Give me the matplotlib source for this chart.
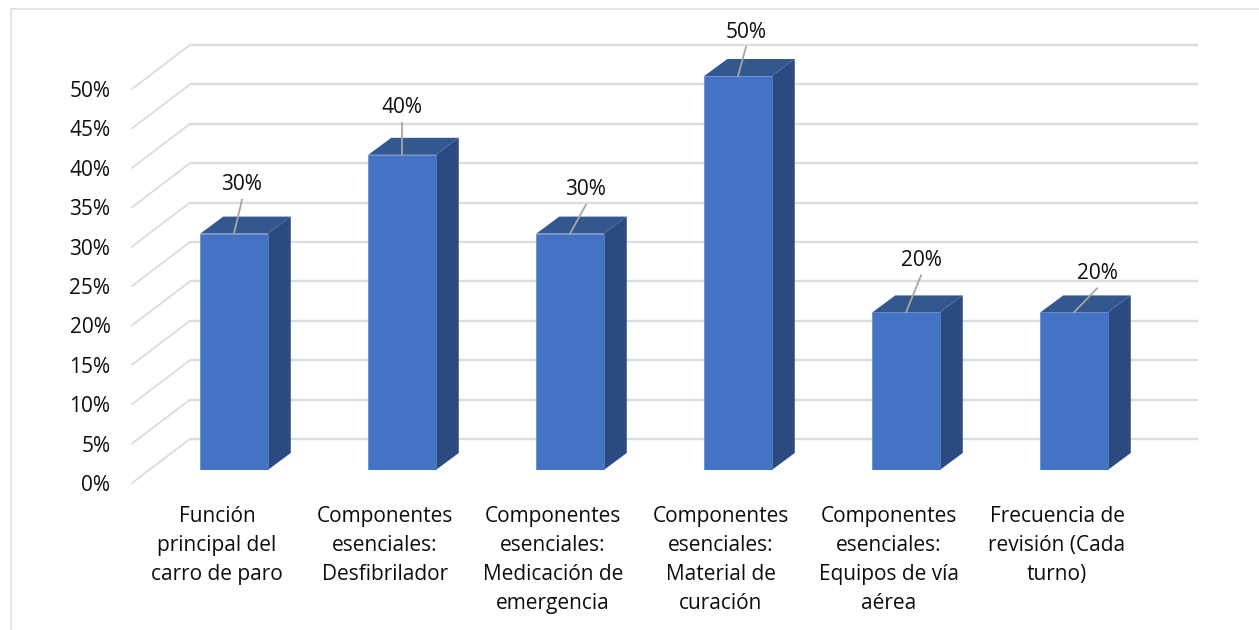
import matplotlib
matplotlib.use("Agg")
import matplotlib.pyplot as plt
from matplotlib.lines import Line2D
from matplotlib.transforms import ScaledTranslation

plt.rcParams['font.family'] = ['Open Sans', 'DejaVu Sans']

categories = [
    "Función\nprincipal del\ncarro de paro",
    "Componentes\nesenciales:\nDesfibrilador",
    "Componentes\nesenciales:\nMedicación de\nemergencia",
    "Componentes\nesenciales:\nMaterial de\ncuración",
    "Componentes\nesenciales:\nEquipos de vía\naérea",
    "Frecuencia de\nrevisión (Cada\nturno)",
]
values = [30, 40, 30, 50, 20, 20]
y_ticks = [0, 5, 10, 15, 20, 25, 30, 35, 40, 45, 50]
y_tick_labels = ["0%", "5%", "10%", "15%", "20%", "25%", "30%", "35%", "40%", "45%", "50%"]

W, H = 1259, 630
PX_X = 1 / 168  # one pixel in category units
PX_Y = 50 / 394  # one pixel in percent units

# Leader line end, relative to the top of each bar (pixels)
leader_dx = [8, 0, 16, 8, 15, 23]
leader_dy = [34, 32, 29, 29, 37, 24]

FRONT = "#4472C4"
SIDE = "#2B4A80"
TOP = "#33578F"
EDGE = "#5F86CC"
GRID = "#DCDCDC"
TEXT = "#0D0D0D"
FONT_SIZE = 15

fig = plt.figure(figsize=(W / 100, H / 100), dpi=100)
ax = fig.add_axes([150 / W, 1 - 470 / H, 1008 / W, 394 / H])
ax.set_xlim(-0.5, 5.5)
ax.set_ylim(0, 50)
ax.patch.set_visible(False)
for s in ax.spines.values():
    s.set_visible(False)

# Walls of the 3D box: back wall and left wall gridlines
back_x, back_y = 40 * PX_X, 31 * PX_Y
front_x, front_y = -18 * PX_X, -13 * PX_Y
for t in y_ticks:
    ax.plot([-0.5 + back_x, 5.5 + back_x], [t + back_y, t + back_y],
            color=GRID, lw=1.7, clip_on=False, zorder=1, solid_capstyle='butt')
    ax.plot([-0.5 + front_x, -0.5 + back_x], [t + front_y, t + back_y],
            color=GRID, lw=1.3, clip_on=False, zorder=1)

# Bars
bar_w = 67.5 * PX_X
dx, dy = 23 * PX_X, 17 * PX_Y
for i, v in enumerate(values):
    x0, x1 = i - bar_w / 2, i + bar_w / 2
    ax.fill([x1, x1 + dx, x1 + dx, x1], [0, dy, v + dy, v], color=SIDE, lw=0, zorder=2, clip_on=False)
    ax.fill([x0, x1, x1 + dx, x0 + dx], [v, v, v + dy, v + dy], color=TOP, lw=0, zorder=2, clip_on=False)
ax.bar(range(len(values)), values, width=bar_w, color=FRONT, edgecolor=EDGE, linewidth=0.5, zorder=3)

# Data labels with leader lines
for i, v in enumerate(values):
    lx = i + leader_dx[i] * PX_X
    ly = v + leader_dy[i] * PX_Y
    ax.plot([i, lx], [v, ly], color="#A6A6A6", lw=1.3, clip_on=False, zorder=4)
    ax.text(lx, ly + 15 * PX_Y, f"{v}%", ha='center', va='center', fontsize=FONT_SIZE,
            color=TEXT, zorder=5)

# Tick labels sit on the front edge of the floor, not on the bar plane
ax.set_yticks(y_ticks, y_tick_labels, fontsize=FONT_SIZE, color=TEXT)
ax.set_xticks(range(len(categories)), categories, fontsize=FONT_SIZE, color=TEXT, linespacing=1.5)
ax.tick_params(axis='y', length=0, pad=28.5)
ax.tick_params(axis='x', length=0, pad=26)
y_shift = ScaledTranslation(0, -13 / 100, fig.dpi_scale_trans)
x_shift = ScaledTranslation(-17 / 100, 0, fig.dpi_scale_trans)
for lab in ax.get_yticklabels():
    lab.set_transform(lab.get_transform() + y_shift)
for lab in ax.get_xticklabels():
    lab.set_transform(lab.get_transform() + x_shift)

# Chart area border, cut off by the image on the right and bottom
fig.add_artist(Line2D([11 / W, 11 / W, 1], [0, 1 - 9 / H, 1 - 9 / H], color=GRID, lw=1.1))

fig.savefig("out.png", dpi=100)
